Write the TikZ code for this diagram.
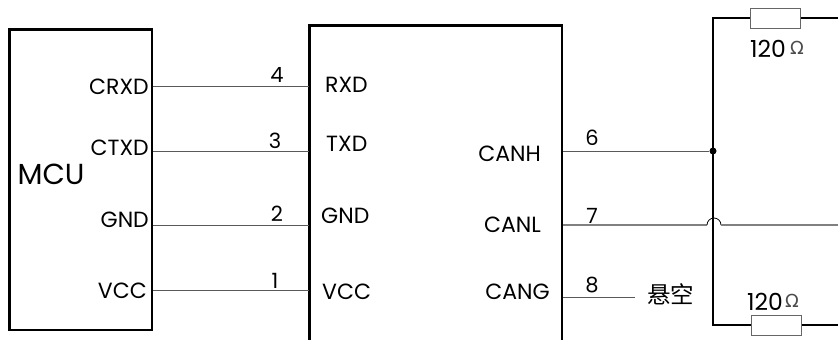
\documentclass[tikz,border=0pt]{standalone}
\usepackage{fontspec}
\setmainfont{Poppins}
\newfontfamily\cjk{Noto Sans CJK SC}
\newfontfamily\symb{DejaVu Sans}
\tikzset{
  chipbox/.style={draw=black,line width=2.4pt,inner sep=0pt},
  wire/.style={draw=black!65,line width=0.9pt},
  greywire/.style={draw=black!50,line width=1.2pt},
  bus/.style={draw=black,line width=1.6pt},
  lab/.style={inner sep=0pt,font=\fontsize{22}{24}\selectfont,text=black},
  num/.style={inner sep=0pt,font=\fontsize{21}{23}\selectfont,text=black},
  res/.style={draw=black!60,line width=0.8pt,fill=white,minimum width=50pt,minimum height=20pt,inner sep=0pt},
  dot/.style={circle,fill=black,inner sep=0pt,minimum size=7pt},
  ohm/.style={inner sep=0pt,font=\symb\fontsize{18}{19}\selectfont,text=black!70}
}
\begin{document}
\begin{tikzpicture}[x=1pt,y=-1pt]
\useasboundingbox (0,0) rectangle (838,340);
\fill[white] (0,0) rectangle (838,340);
% MCU
\draw[chipbox] (9.5,29.5) rectangle (152,330);
\node[lab,font=\fontsize{29}{31}\selectfont] (mcu) at (51,174) {MCU};
\node[lab,anchor=east] (crxd) at (149,87) {CRXD};
\node[lab,anchor=east] (ctxd) at (149,148) {CTXD};
\node[lab,anchor=east] (gnd1) at (149,220) {GND};
\node[lab,anchor=east] (vcc1) at (147,291) {VCC};
% transceiver
\draw[chipbox] (309.5,25.5) -- (562,25.5);
\draw[chipbox] (309.5,24.3) -- (309.5,340);
\draw[chipbox] (562,24.3) -- (562,340);
\node[lab,anchor=west] (rxd) at (325,85) {RXD};
\node[lab,anchor=west] (txd) at (326,144) {TXD};
\node[lab,anchor=west] (gnd2) at (321,216) {GND};
\node[lab,anchor=west] (vcc2) at (322,292) {VCC};
\node[lab,anchor=east] (canh) at (541,154) {CANH};
\node[lab,anchor=east] (canl) at (541,225) {CANL};
\node[lab,anchor=east] (cang) at (550,292) {CANG};
% wires
\coordinate (a4) at (153,86); \coordinate (b4) at (309,86);
\coordinate (a3) at (153,151); \coordinate (b3) at (309,151);
\coordinate (a2) at (153,225); \coordinate (b2) at (309,225);
\coordinate (a1) at (153,290); \coordinate (b1) at (309,290);
\draw[wire] (a4) -- (b4);
\draw[wire] (a3) -- (b3);
\draw[wire] (a2) -- (b2);
\draw[wire] (a1) -- (b1);
\node[num] (n4) at (277,75) {4};
\node[num] (n3) at (275,141) {3};
\node[num] (n2) at (277,214) {2};
\node[num] (n1) at (275,281) {1};
% right side
\coordinate (h0) at (563,151);
\coordinate (tl) at (713,18);
\coordinate (bl) at (713,325);
\coordinate (tr) at (838,18);
\coordinate (br) at (838,325);
\node[dot] (j) at (713,151) {};
\draw[wire] (h0) -- (j);
\draw[bus] (tr) -- (tl) -- (bl) -- (br);
\node[res] (r1) at (775,18) {};
\node[res] (r2) at (776,325) {};
\coordinate (l0) at (563,225);
\coordinate (l1) at (707,225);
\coordinate (l3) at (838,225);
\draw[greywire] (l0) -- (l1);
\draw[draw=black,line width=0.8pt] (l1) arc[start angle=180,end angle=0,radius=7pt] coordinate (l2);
\draw[greywire] (l2) -- (l3);
\coordinate (g0) at (563,297);
\coordinate (g1) at (635,297);
\draw[wire] (g0) -- (g1);
\node[num] (n6) at (592,138) {6};
\node[num] (n7) at (592,216) {7};
\node[num] (n8) at (592,285) {8};
\node[lab,font=\cjk\fontsize{23.5}{25}\selectfont] (nc) at (670.5,294) {悬空};
\node[lab,anchor=west,font=\fontsize{23.5}{25}\selectfont] (v1) at (750,49) {120};
\node[ohm,anchor=west] (o1) at (790,48) {Ω};
\node[lab,anchor=west,font=\fontsize{23.5}{25}\selectfont] (v2) at (747,302) {120};
\node[ohm,anchor=west] (o2) at (785,301) {Ω};
\end{tikzpicture}
\end{document}
